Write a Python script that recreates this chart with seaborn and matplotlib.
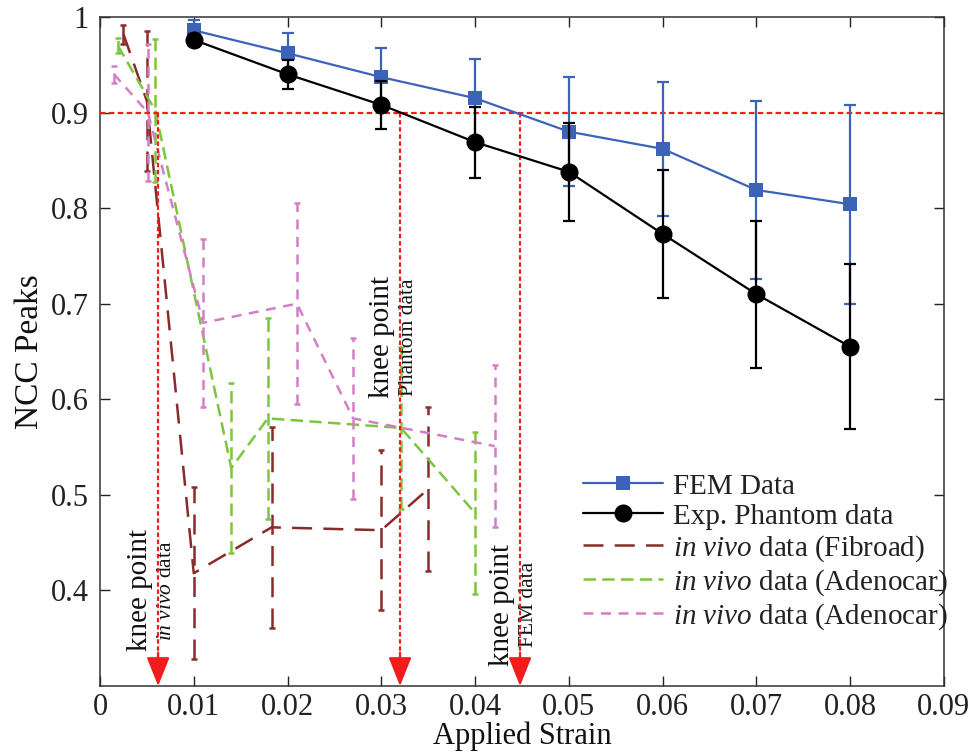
import numpy as np
import pandas as pd
import matplotlib
matplotlib.use("Agg")
import matplotlib.pyplot as plt
import seaborn as sns
from matplotlib.lines import Line2D

# ---------------- data ----------------
strain = [0.01, 0.02, 0.03, 0.04, 0.05, 0.06, 0.07, 0.08]
fem_ncc = [0.986, 0.962, 0.937, 0.915, 0.880, 0.862, 0.819, 0.804]
fem_err = [0.011, 0.021, 0.031, 0.041, 0.057, 0.070, 0.093, 0.104]
phantom_ncc = [0.976, 0.940, 0.908, 0.869, 0.838, 0.773, 0.710, 0.655]
phantom_err = [0.006, 0.015, 0.025, 0.037, 0.051, 0.067, 0.077, 0.086]

fib_x = [0.0025, 0.0050, 0.0100, 0.0183, 0.0300, 0.0350]
fib_y = [0.982, 0.912, 0.418, 0.466, 0.463, 0.506]
fib_err = [0.010, 0.073, 0.090, 0.105, 0.084, 0.086]

ade1_x = [0.0019, 0.0059, 0.0140, 0.0179, 0.0321, 0.0400]
ade1_y = [0.970, 0.902, 0.528, 0.580, 0.570, 0.481]
ade1_err = [0.008, 0.075, 0.089, 0.105, 0.085, 0.085]

ade2_x = [0.0015, 0.0051, 0.0110, 0.0210, 0.0270, 0.0421]
ade2_y = [0.940, 0.900, 0.680, 0.700, 0.580, 0.551]
ade2_err = [0.009, 0.072, 0.088, 0.105, 0.084, 0.085]

threshold = 0.9
knee_x = [0.0062, 0.0320, 0.0448]
knee_main = ["knee point", "knee point", "knee point"]
knee_sub = [r"$\mathit{in\ vivo}$ data", "Phantom data", "FEM data"]
knee_text_y = [0.40, 0.665, 0.385]

xticks = [0, 0.01, 0.02, 0.03, 0.04, 0.05, 0.06, 0.07, 0.08, 0.09]
xticklabels = ["0", "0.01", "0.02", "0.03", "0.04", "0.05", "0.06", "0.07", "0.08", "0.09"]
yticks = [0.4, 0.5, 0.6, 0.7, 0.8, 0.9, 1.0]
yticklabels = ["0.4", "0.5", "0.6", "0.7", "0.8", "0.9", "1"]

labels = ["FEM Data", "Exp. Phantom data",
          r"$\mathit{in\ vivo}$ data (Fibroad)",
          r"$\mathit{in\ vivo}$ data (Adenocar)",
          r"$\mathit{in\ vivo}$ data (Adenocar)"]

# ---------------- style ----------------
sns.set_theme(style="ticks")
plt.rcParams["font.family"] = ["Liberation Serif", "DejaVu Serif"]
plt.rcParams["mathtext.fontset"] = "custom"
plt.rcParams["mathtext.rm"] = "Liberation Serif"
plt.rcParams["mathtext.it"] = "Liberation Serif:italic"

c_fem = "#3b64b8"
c_ph = "#000000"
c_fib = "#8b2a2a"
c_ade1 = "#7cc63f"
c_ade2 = "#d47fc5"
c_red = "#f21c1c"

fig = plt.figure(figsize=(9.71, 7.56), dpi=100)
ax = fig.add_axes([0.103, 0.0926, 0.869, 0.885])

# in vivo series (drawn first, beneath)
vivo = [
    (fib_x, fib_y, fib_err, c_fib, (0, (8, 4.5))),
    (ade1_x, ade1_y, ade1_err, c_ade1, (0, (5, 2.5))),
    (ade2_x, ade2_y, ade2_err, c_ade2, (0, (4, 3))),
]
vivo_handles = []
for xs, ys, es, col, ls in vivo:
    df = pd.DataFrame({"x": xs, "y": ys})
    sns.lineplot(data=df, x="x", y="y", ax=ax, color=col, linewidth=1.8,
                 linestyle=ls, errorbar=None, sort=False)
    eb = ax.errorbar(xs, ys, yerr=es, fmt="none", ecolor=col, elinewidth=1.8,
                     capsize=2.5, capthick=1.8)
    eb[2][0].set_linestyle(ls)
    vivo_handles.append(Line2D([], [], color=col, lw=1.8, linestyle=ls))

# threshold line and knee arrows
ax.axhline(threshold, color=c_red, lw=1.6, linestyle=(0, (2.5, 1.5)), zorder=5)
for kx in knee_x:
    ax.plot([kx, kx], [threshold, 0.32], color=c_red, lw=1.6,
            linestyle=(0, (2, 1.2)), zorder=5)
    ax.annotate("", xy=(kx, 0.30), xytext=(kx, 0.335),
                arrowprops=dict(arrowstyle="-|>,head_length=1.5,head_width=0.6",
                                color=c_red, lw=1.5, shrinkA=0, shrinkB=0),
                zorder=6)

for kx, tm, ts, ty in zip(knee_x, knee_main, knee_sub, knee_text_y):
    ax.text(kx - 0.0019, ty, tm, rotation=90, ha="center", va="center",
            fontsize=21, color="#111111")
    ax.text(kx + 0.0009, ty, ts, rotation=90, ha="center", va="center",
            fontsize=15.5, color="#111111")

# FEM and phantom
df_fem = pd.DataFrame({"x": strain, "y": fem_ncc})
sns.lineplot(data=df_fem, x="x", y="y", ax=ax, color=c_fem, linewidth=1.6,
             marker="s", markersize=10, markeredgewidth=0, errorbar=None, zorder=8)
ax.errorbar(strain, fem_ncc, yerr=fem_err, fmt="none", ecolor=c_fem,
            elinewidth=1.6, capsize=4.5, capthick=1.6, zorder=8)

df_ph = pd.DataFrame({"x": strain, "y": phantom_ncc})
sns.lineplot(data=df_ph, x="x", y="y", ax=ax, color=c_ph, linewidth=1.6,
             marker="o", markersize=13, markeredgewidth=0, errorbar=None, zorder=9)
ax.errorbar(strain, phantom_ncc, yerr=phantom_err, fmt="none", ecolor=c_ph,
            elinewidth=1.6, capsize=4.5, capthick=1.6, zorder=9)

# axes
ax.set_xlim(0, 0.09)
ax.set_ylim(0.3, 1.0)
ax.set_xticks(xticks)
ax.set_xticklabels(xticklabels)
ax.set_yticks(yticks)
ax.set_yticklabels(yticklabels)
ax.tick_params(direction="in", top=True, right=True, length=7, width=1,
               labelsize=22, colors="#222222", pad=8)
ax.tick_params(axis="x", pad=5)
for sp in ax.spines.values():
    sp.set_visible(True)
    sp.set_linewidth(1.1)
    sp.set_color("#333333")
ax.set_xlabel("Applied Strain", fontsize=22, color="#111111", labelpad=0)
ax.set_ylabel("NCC Peaks", fontsize=24, color="#111111", labelpad=4)

handles = [
    Line2D([], [], color=c_fem, lw=1.6, marker="s", markersize=10, markeredgewidth=0),
    Line2D([], [], color=c_ph, lw=1.6, marker="o", markersize=13, markeredgewidth=0),
] + vivo_handles
leg = ax.legend(handles, labels, loc="upper left", bbox_to_anchor=(0.572, 0.318),
                frameon=False, fontsize=21, handlelength=2.75, handletextpad=0.35,
                labelspacing=0.12, borderpad=0, borderaxespad=0)
for t in leg.get_texts():
    t.set_color("#222222")

fig.savefig("out.png", dpi=100)
